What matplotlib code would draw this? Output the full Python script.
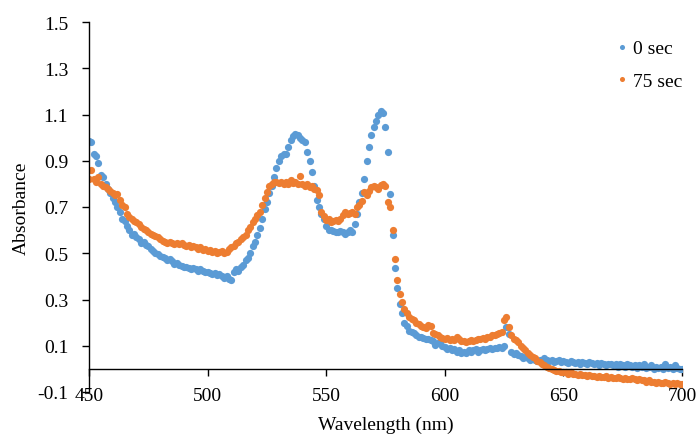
import matplotlib
matplotlib.use("Agg")
import matplotlib.pyplot as plt
import numpy as np

# wavelength grid (nm), one reading per nm
wavelength = np.arange(450, 701, 1)

# absorbance at 0 sec
abs_0 = [
    0.985, 0.98, 0.93, 0.92, 0.89, 0.84, 0.83, 0.80, 0.78, 0.76,      # 450
    0.74, 0.72, 0.70, 0.68, 0.65, 0.64, 0.62, 0.60, 0.58, 0.585,      # 460
    0.57, 0.56, 0.545, 0.55, 0.535, 0.53, 0.52, 0.51, 0.50, 0.495,    # 470
    0.49, 0.485, 0.48, 0.47, 0.475, 0.465, 0.455, 0.46, 0.45, 0.445,  # 480
    0.44, 0.44, 0.435, 0.43, 0.435, 0.43, 0.425, 0.43, 0.425, 0.42,   # 490
    0.42, 0.415, 0.41, 0.415, 0.405, 0.41, 0.40, 0.395, 0.40, 0.39,   # 500
    0.385, 0.42, 0.43, 0.425, 0.44, 0.45, 0.47, 0.48, 0.50, 0.53,     # 510
    0.55, 0.58, 0.61, 0.65, 0.69, 0.72, 0.76, 0.79, 0.83, 0.87,       # 520
    0.90, 0.92, 0.93, 0.93, 0.96, 0.99, 1.005, 1.015, 1.01, 1.00,     # 530
    0.99, 0.98, 0.94, 0.90, 0.85, 0.79, 0.73, 0.70, 0.67, 0.65,       # 540
    0.62, 0.60, 0.60, 0.595, 0.59, 0.59, 0.595, 0.59, 0.585, 0.59,    # 550
    0.60, 0.59, 0.625, 0.67, 0.72, 0.76, 0.82, 0.90, 0.96, 1.01,      # 560
    1.045, 1.07, 1.10, 1.115, 1.105, 1.045, 0.94, 0.755, 0.58, 0.435, # 570
    0.35, 0.28, 0.24, 0.20, 0.185, 0.165, 0.16, 0.155, 0.145, 0.14,   # 580
    0.14, 0.135, 0.13, 0.13, 0.125, 0.12, 0.105, 0.11, 0.115, 0.10,   # 590
    0.095, 0.085, 0.09, 0.08, 0.085, 0.075, 0.08, 0.07, 0.075, 0.07,  # 600
    0.08, 0.075, 0.08, 0.085, 0.075, 0.08, 0.085, 0.08, 0.085, 0.09,  # 610
    0.085, 0.09, 0.09, 0.095, 0.09, 0.10, 0.18, 0.15, 0.075, 0.065,   # 620
    0.07, 0.06, 0.055, 0.045, 0.05, 0.045, 0.04, 0.045, 0.04, 0.035,  # 630
    0.04, 0.035, 0.045, 0.04, 0.035, 0.04, 0.03, 0.035, 0.04, 0.03,   # 640
    0.035, 0.03, 0.025, 0.035, 0.03, 0.025, 0.03, 0.02, 0.03, 0.025,  # 650
    0.02, 0.03, 0.025, 0.02, 0.025, 0.015, 0.025, 0.02, 0.015, 0.02,  # 660
    0.02, 0.015, 0.02, 0.01, 0.02, 0.015, 0.01, 0.02, 0.015, 0.01,    # 670
    0.015, 0.005, 0.015, 0.01, 0.02, 0.005, 0.01, 0.015, 0.0, 0.01,   # 680
    0.005, 0.01, 0.0, 0.02, 0.005, 0.01, 0.0, 0.015, 0.005, 0.0,      # 690
    0.0,                                                              # 700
]

# absorbance at 75 sec
abs_75 = [
    0.82, 0.86, 0.82, 0.81, 0.83, 0.80, 0.79, 0.785, 0.78, 0.77,      # 450
    0.76, 0.75, 0.755, 0.73, 0.71, 0.70, 0.67, 0.655, 0.65, 0.64,     # 460
    0.635, 0.625, 0.615, 0.605, 0.60, 0.59, 0.585, 0.58, 0.575, 0.57, # 470
    0.56, 0.555, 0.55, 0.545, 0.55, 0.545, 0.54, 0.545, 0.54, 0.545,  # 480
    0.535, 0.53, 0.535, 0.525, 0.53, 0.525, 0.52, 0.525, 0.515, 0.52, # 490
    0.51, 0.515, 0.505, 0.51, 0.50, 0.505, 0.51, 0.50, 0.505, 0.52,   # 500
    0.525, 0.53, 0.545, 0.55, 0.56, 0.57, 0.58, 0.60, 0.615, 0.635,   # 510
    0.65, 0.665, 0.68, 0.71, 0.74, 0.765, 0.79, 0.80, 0.81, 0.81,     # 520
    0.805, 0.81, 0.80, 0.81, 0.80, 0.815, 0.805, 0.81, 0.80, 0.835,   # 530
    0.80, 0.79, 0.80, 0.785, 0.79, 0.78, 0.775, 0.75, 0.68, 0.66,     # 540
    0.645, 0.65, 0.635, 0.64, 0.645, 0.64, 0.65, 0.665, 0.68, 0.67,   # 550
    0.675, 0.68, 0.67, 0.70, 0.71, 0.725, 0.765, 0.75, 0.77, 0.785,   # 560
    0.79, 0.785, 0.78, 0.795, 0.80, 0.79, 0.72, 0.70, 0.60, 0.475,    # 570
    0.385, 0.325, 0.29, 0.26, 0.24, 0.225, 0.215, 0.21, 0.20, 0.195,  # 580
    0.185, 0.18, 0.175, 0.19, 0.185, 0.155, 0.15, 0.145, 0.14, 0.135, # 590
    0.13, 0.135, 0.125, 0.13, 0.125, 0.14, 0.13, 0.12, 0.12, 0.115,   # 600
    0.12, 0.125, 0.12, 0.125, 0.13, 0.13, 0.135, 0.13, 0.14, 0.14,    # 610
    0.145, 0.145, 0.15, 0.155, 0.16, 0.21, 0.225, 0.18, 0.145, 0.13,  # 620
    0.125, 0.115, 0.10, 0.09, 0.08, 0.07, 0.06, 0.05, 0.045, 0.035,   # 630
    0.03, 0.02, 0.015, 0.01, 0.005, 0.0, -0.005, -0.01, -0.01, -0.012, # 640
    -0.015, -0.015, -0.02, -0.015, -0.02, -0.02, -0.025, -0.02, -0.025, -0.025,  # 650
    -0.03, -0.025, -0.03, -0.03, -0.035, -0.03, -0.035, -0.035, -0.03, -0.04,    # 660
    -0.035, -0.04, -0.04, -0.035, -0.04, -0.045, -0.04, -0.045, -0.045, -0.04,   # 670
    -0.045, -0.05, -0.045, -0.05, -0.05, -0.055, -0.05, -0.055, -0.055, -0.06,   # 680
    -0.055, -0.06, -0.06, -0.055, -0.06, -0.065, -0.06, -0.065, -0.06, -0.065,   # 690
    -0.065,                                                                      # 700
]

series_labels = ["0 sec", "75 sec"]
x_ticks = [450, 500, 550, 600, 650, 700]
y_ticks = [-0.1, 0.1, 0.3, 0.5, 0.7, 0.9, 1.1, 1.3, 1.5]

plt.rcParams["font.family"] = ["Liberation Serif", "DejaVu Serif"]
plt.rcParams["axes.unicode_minus"] = False

fig = plt.figure(figsize=(6.97, 4.35), dpi=100)
ax = fig.add_axes([89 / 697, 42 / 435, 593 / 697, 370 / 435])

ax.plot(wavelength, abs_0, "o", color="#5B9BD5", ms=5.2, mew=0, label=series_labels[0])
ax.plot(wavelength, abs_75, "o", color="#ED7D31", ms=5.2, mew=0, label=series_labels[1])

ax.set_xlim(450, 700)
ax.set_ylim(-0.1, 1.5)
ax.set_xticks(x_ticks)
ax.set_yticks(y_ticks)
ax.set_yticklabels(["%.1f" % v for v in y_ticks])

# excel style: x axis crosses at y = 0
ax.spines["top"].set_visible(False)
ax.spines["right"].set_visible(False)
ax.spines["bottom"].set_position(("data", 0))
ax.spines["bottom"].set_linewidth(1.0)
ax.spines["left"].set_linewidth(1.0)
ax.tick_params(axis="x", direction="out", length=5, width=1, pad=8, labelsize=14)
ax.tick_params(axis="y", direction="out", length=5, width=1, pad=10, labelsize=14)

ax.set_xlabel("Wavelength (nm)", fontsize=14)
ax.xaxis.set_label_coords(0.5, -0.065)
ax.set_ylabel("Absorbance", fontsize=14)
ax.yaxis.set_label_coords(-0.099, 0.5)

leg = ax.legend(loc="upper left", bbox_to_anchor=(606 / 697, 1 - 31 / 435),
                bbox_transform=fig.transFigure, frameon=False, fontsize=14,
                markerscale=0.7, handlelength=0.6, handletextpad=0.3,
                labelspacing=0.75, borderpad=0)

fig.savefig("out.png", dpi=100)
plt.close(fig)
